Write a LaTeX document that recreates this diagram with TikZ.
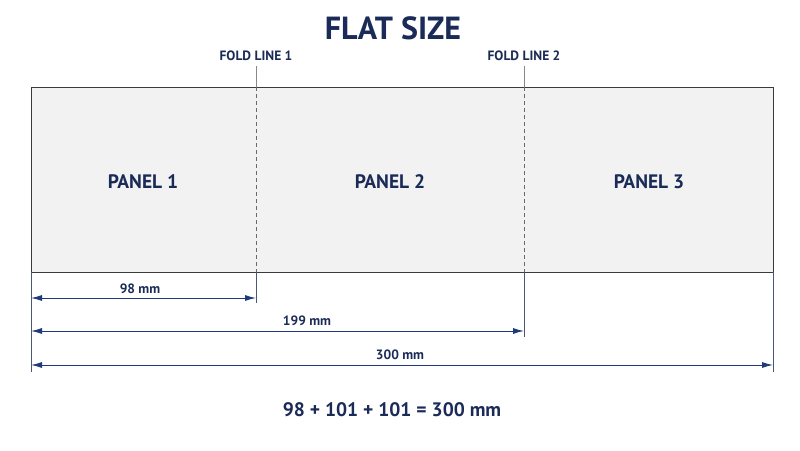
\documentclass[tikz,border=0pt]{standalone}
\usepackage{fontspec}
\setmainfont{PT Sans}
\usetikzlibrary{arrows.meta}
\definecolor{navy}{HTML}{1B2B57}
\definecolor{arrowblue}{HTML}{1E3A78}
\definecolor{extgray}{HTML}{4A5878}
\definecolor{panelfill}{HTML}{F2F2F2}
\definecolor{border}{HTML}{3A3A3A}
\definecolor{foldgray}{HTML}{6A6A6A}
\tikzset{
  lbl/.style={text=navy,font=\bfseries\fontsize{13.5}{15}\selectfont,inner sep=0pt},
  panellbl/.style={text=navy,font=\bfseries\fontsize{19.5}{21}\selectfont,inner sep=0pt},
  dimline/.style={draw=arrowblue,line width=0.9pt,{Latex[length=11pt,width=6pt]}-{Latex[length=11pt,width=6pt]}},
  extline/.style={draw=extgray,line width=0.8pt},
  foldline/.style={draw=foldgray,line width=0.9pt,dash pattern=on 4pt off 3pt},
}
\begin{document}
\begin{tikzpicture}[x=1pt,y=-1pt]
\useasboundingbox (0,0) rectangle (800,450);
\node[text=navy,font=\bfseries\fontsize{32}{34}\selectfont,inner sep=0pt] (title) at (393,28) {FLAT SIZE};
\draw[fill=panelfill,draw=border,line width=0.9pt] (31,87) rectangle (773,272);
\coordinate (f1t) at (256,87); \coordinate (f1b) at (256,272);
\coordinate (f2t) at (524,87); \coordinate (f2b) at (524,272);
\node[lbl] (fl1) at (256,56) {FOLD LINE 1};
\node[lbl] (fl2) at (524,56) {FOLD LINE 2};
\coordinate (f1u) at (256,66); \coordinate (f2u) at (524,66);
\draw[extline,draw=foldgray!80] (f1u) -- (f1t);
\draw[extline,draw=foldgray!80] (f2u) -- (f2t);
\draw[foldline] (f1t) -- (f1b);
\draw[foldline] (f2t) -- (f2b);
\node[panellbl] (p1) at (143,182) {PANEL 1};
\node[panellbl] (p2) at (390,182) {PANEL 2};
\node[panellbl] (p3) at (649,182) {PANEL 3};
% extension lines
\coordinate (e0) at (31,372); \coordinate (e0t) at (31,272);
\coordinate (e1) at (256,303);
\coordinate (e2) at (524,337);
\coordinate (e3) at (773,372); \coordinate (e3t) at (773,272);
\draw[extline] (e0t) -- (e0);
\draw[extline] (f1b) -- (e1);
\draw[extline] (f2b) -- (e2);
\draw[extline] (e3t) -- (e3);
% dimensions
\coordinate (d1a) at (31,298); \coordinate (d1b) at (256,298);
\coordinate (d2a) at (31,331); \coordinate (d2b) at (524,331);
\coordinate (d3a) at (31,365); \coordinate (d3b) at (773,365);
\draw[dimline] (d1a) -- (d1b);
\draw[dimline] (d2a) -- (d2b);
\draw[dimline] (d3a) -- (d3b);
\node[lbl] (m1) at (140,289) {98 mm};
\node[lbl] (m2) at (307,321) {199 mm};
\node[lbl] (m3) at (400,355) {300 mm};
\node[text=navy,font=\bfseries\fontsize{19.5}{21}\selectfont,inner sep=0pt] (sum) at (392,410) {98 + 101 + 101 = 300 mm};
\end{tikzpicture}
\end{document}
